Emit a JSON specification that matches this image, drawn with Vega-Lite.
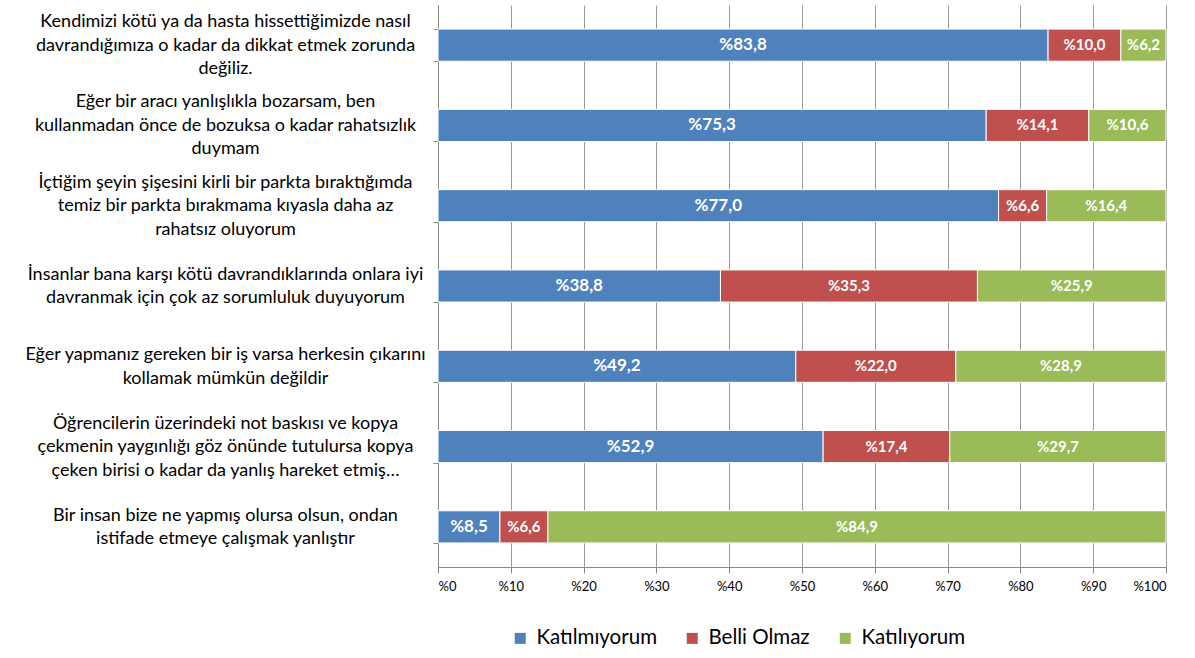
{
  "$schema": "https://vega.github.io/schema/vega-lite/v6.json",
  "width": 728,
  "height": 562,
  "autosize": "none",
  "padding": {"left": 438, "top": 5, "right": 29, "bottom": 91},
  "background": "white",
  "config": {"view": {"stroke": null}, "font": "Lato"},
  "data": {"values": [
    {"q": "Kendimizi kötü ya da hasta hissettiğimizde nasıl|davrandığımıza o kadar da dikkat etmek zorunda|değiliz.", "s": "Katılmıyorum", "v": 83.8},
    {"q": "Kendimizi kötü ya da hasta hissettiğimizde nasıl|davrandığımıza o kadar da dikkat etmek zorunda|değiliz.", "s": "Belli Olmaz", "v": 10.0},
    {"q": "Kendimizi kötü ya da hasta hissettiğimizde nasıl|davrandığımıza o kadar da dikkat etmek zorunda|değiliz.", "s": "Katılıyorum", "v": 6.2},
    {"q": "Eğer bir aracı yanlışlıkla bozarsam, ben|kullanmadan önce de bozuksa  o kadar rahatsızlık|duymam", "s": "Katılmıyorum", "v": 75.3},
    {"q": "Eğer bir aracı yanlışlıkla bozarsam, ben|kullanmadan önce de bozuksa  o kadar rahatsızlık|duymam", "s": "Belli Olmaz", "v": 14.1},
    {"q": "Eğer bir aracı yanlışlıkla bozarsam, ben|kullanmadan önce de bozuksa  o kadar rahatsızlık|duymam", "s": "Katılıyorum", "v": 10.6},
    {"q": "İçtiğim şeyin şişesini kirli bir parkta bıraktığımda|temiz bir parkta bırakmama kıyasla daha az|rahatsız oluyorum", "s": "Katılmıyorum", "v": 77.0},
    {"q": "İçtiğim şeyin şişesini kirli bir parkta bıraktığımda|temiz bir parkta bırakmama kıyasla daha az|rahatsız oluyorum", "s": "Belli Olmaz", "v": 6.6},
    {"q": "İçtiğim şeyin şişesini kirli bir parkta bıraktığımda|temiz bir parkta bırakmama kıyasla daha az|rahatsız oluyorum", "s": "Katılıyorum", "v": 16.4},
    {"q": "İnsanlar bana karşı kötü  davrandıklarında onlara iyi|davranmak için çok az sorumluluk  duyuyorum", "s": "Katılmıyorum", "v": 38.8},
    {"q": "İnsanlar bana karşı kötü  davrandıklarında onlara iyi|davranmak için çok az sorumluluk  duyuyorum", "s": "Belli Olmaz", "v": 35.3},
    {"q": "İnsanlar bana karşı kötü  davrandıklarında onlara iyi|davranmak için çok az sorumluluk  duyuyorum", "s": "Katılıyorum", "v": 25.9},
    {"q": "Eğer yapmanız gereken bir iş varsa herkesin çıkarını|kollamak mümkün değildir", "s": "Katılmıyorum", "v": 49.2},
    {"q": "Eğer yapmanız gereken bir iş varsa herkesin çıkarını|kollamak mümkün değildir", "s": "Belli Olmaz", "v": 22.0},
    {"q": "Eğer yapmanız gereken bir iş varsa herkesin çıkarını|kollamak mümkün değildir", "s": "Katılıyorum", "v": 28.9},
    {"q": "Öğrencilerin üzerindeki not baskısı ve kopya|çekmenin yaygınlığı göz önünde tutulursa  kopya|çeken birisi o kadar da  yanlış hareket etmiş…", "s": "Katılmıyorum", "v": 52.9},
    {"q": "Öğrencilerin üzerindeki not baskısı ve kopya|çekmenin yaygınlığı göz önünde tutulursa  kopya|çeken birisi o kadar da  yanlış hareket etmiş…", "s": "Belli Olmaz", "v": 17.4},
    {"q": "Öğrencilerin üzerindeki not baskısı ve kopya|çekmenin yaygınlığı göz önünde tutulursa  kopya|çeken birisi o kadar da  yanlış hareket etmiş…", "s": "Katılıyorum", "v": 29.7},
    {"q": "Bir insan bize ne yapmış olursa olsun,  ondan|istifade etmeye çalışmak yanlıştır", "s": "Katılmıyorum", "v": 8.5},
    {"q": "Bir insan bize ne yapmış olursa olsun,  ondan|istifade etmeye çalışmak yanlıştır", "s": "Belli Olmaz", "v": 6.6},
    {"q": "Bir insan bize ne yapmış olursa olsun,  ondan|istifade etmeye çalışmak yanlıştır", "s": "Katılıyorum", "v": 84.9}
  ]},
  "transform": [
    {"calculate": "indexof(['Katılmıyorum','Belli Olmaz','Katılıyorum'], datum.s)", "as": "o"},
    {"stack": "v", "groupby": ["q"], "sort": [{"field": "o", "order": "ascending"}], "offset": "normalize", "as": ["x0", "x1"]},
    {"calculate": "(datum.x0 + datum.x1) / 2", "as": "xm"},
    {"calculate": "'%' + replace(format(datum.v, '.1f'), '.', ',')", "as": "lbl"}
  ],
  "encoding": {
    "y": {
      "field": "q",
      "type": "nominal",
      "sort": null,
      "scale": {"paddingInner": 0.6, "paddingOuter": 0.3},
      "axis": {
        "title": null,
        "labelExpr": "split(datum.label, '|')",
        "labelAlign": "center",
        "labelBaseline": "middle",
        "labelPadding": 208,
        "labelOffset": {"expr": "-(length(split(datum.value, '|')) - 1) * 11.75"},
        "tickSize": 5,
        "tickBand": "extent",
        "labelFontSize": 18,
        "labelLineHeight": 23.5,
        "labelColor": "black",
        "labelLimit": 0,
        "domainColor": "#888888",
        "tickColor": "#888888",
        "grid": false,
        "labelFont": "Lato"
      }
    }
  },
  "layer": [
    {
      "mark": {"type": "bar", "stroke": "white", "strokeWidth": 1},
      "encoding": {
        "x": {
          "field": "x0",
          "type": "quantitative",
          "scale": {"domain": [0, 1]},
          "axis": {
            "title": null,
            "values": [0, 0.1, 0.2, 0.3, 0.4, 0.5, 0.6, 0.7, 0.8, 0.9, 1],
            "labelExpr": "'%' + round(datum.value * 100)",
            "grid": true,
            "gridColor": "#999999",
            "gridWidth": 1,
            "tickSize": 6,
            "labelFontSize": 13,
            "labelPadding": 7,
            "labelColor": "black",
            "domainColor": "#888888",
            "tickColor": "#888888",
            "labelFont": "Lato"
          }
        },
        "x2": {"field": "x1"},
        "color": {
          "field": "s",
          "type": "nominal",
          "scale": {"domain": ["Katılmıyorum", "Belli Olmaz", "Katılıyorum"], "range": ["#4F81BD", "#C0504D", "#9BBB59"]},
          "legend": {
            "title": null,
            "orient": "none",
            "direction": "horizontal",
            "legendX": 72,
            "legendY": 623,
            "symbolType": "square",
            "symbolSize": 121,
            "symbolStrokeWidth": 0,
            "labelFontSize": 20.5,
            "labelColor": "black",
            "labelFont": "Lato",
            "columnPadding": 25,
            "labelOffset": 6
          }
        }
      }
    },
    {
      "transform": [{"filter": "datum.s == 'Katılmıyorum'"}],
      "mark": {"type": "text", "color": "white", "fontWeight": "bold", "fontSize": 17, "font": "Lato", "baseline": "middle"},
      "encoding": {
        "x": {"field": "xm", "type": "quantitative"},
        "text": {"field": "lbl"}
      }
    },
    {
      "transform": [{"filter": "datum.s != 'Katılmıyorum'"}],
      "mark": {"type": "text", "color": "white", "fontWeight": "bold", "fontSize": 15, "font": "Lato", "baseline": "middle"},
      "encoding": {
        "x": {"field": "xm", "type": "quantitative"},
        "text": {"field": "lbl"}
      }
    }
  ]
}
